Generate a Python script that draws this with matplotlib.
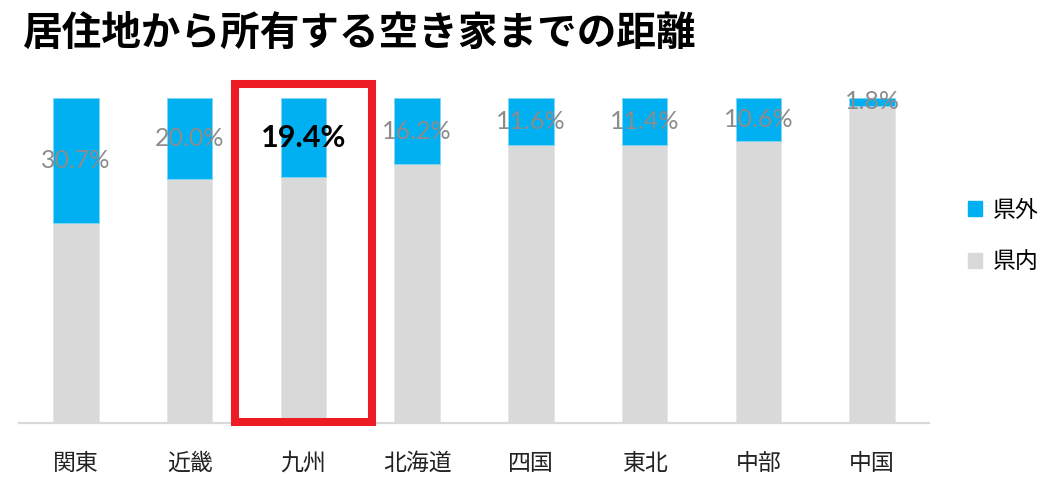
import matplotlib
matplotlib.use('Agg')
import matplotlib.pyplot as plt
from matplotlib.patches import Rectangle, Patch
import numpy as np

plt.rcParams['font.family'] = ['Noto Sans CJK JP', 'DejaVu Sans']

# data (percent)
regions = ['関東', '近畿', '九州', '北海道', '四国', '東北', '中部', '中国']
outside = [30.7, 20.0, 19.4, 16.2, 11.6, 11.4, 10.6, 1.8]   # 県外
inside = [100 - v for v in outside]                           # 県内
highlight = '九州'

blue = '#00B0F0'
gray = '#D9D9D9'

fig = plt.figure(figsize=(10.58, 5.0), dpi=100)
ax = fig.add_axes([19/1058, 1 - 422.7/500, 910/1058, (422.7 - 98.3)/500])

x = np.arange(len(regions))
w = 0.40
ax.bar(x, inside, width=w, color=gray, edgecolor='#E6E6E6', linewidth=0.6, label='県内')
ax.bar(x, outside, width=w, bottom=inside, color=blue, edgecolor='#7FD6F6', linewidth=0.6, label='県外')

ax.set_xlim(-0.5, len(regions) - 0.5)
ax.set_ylim(20, 100)

# data labels at the middle of the blue segment
for i, (lo, v) in enumerate(zip(inside, outside)):
    ymid = lo + v / 2
    if regions[i] == highlight:
        ax.text(i, ymid, f'{v:.1f}%', ha='center', va='center', fontsize=22,
                fontweight='bold', color='black', family=['Lato', 'DejaVu Sans'])
    else:
        ax.text(i, ymid, f'{v:.1f}%', ha='center', va='center', fontsize=18,
                color='#8C8C8C', family=['Lato', 'DejaVu Sans'])

# red box round the highlighted region
hi = regions.index(highlight)
ax.add_patch(Rectangle((hi - 0.605, 20.1), 1.21, 83.4, fill=False,
                       edgecolor='#ED1C24', linewidth=5.8, clip_on=False, zorder=5))

for s in ['top', 'right', 'left']:
    ax.spines[s].set_visible(False)
ax.spines['bottom'].set_color(gray)
ax.spines['bottom'].set_linewidth(1.6)
ax.set_yticks([])
ax.set_xticks(x)
ax.set_xticklabels(regions, fontsize=16.5, color='#222222')
ax.tick_params(axis='x', length=0, pad=21)

fig.text(22/1058, 1 - 34/500, '居住地から所有する空き家までの距離', fontsize=28.5,
         fontweight='bold', va='center', ha='left', color='black')

handles = [Patch(facecolor=blue, edgecolor=blue, label='県外'),
           Patch(facecolor=gray, edgecolor=gray, label='県内')]
fig.legend(handles=handles, loc='center left', bbox_to_anchor=(957/1058, 1 - 236/500),
           frameon=False, fontsize=16.5, handlelength=0.6, handleheight=0.6,
           handletextpad=0.45, labelspacing=1.25, borderpad=0)

fig.savefig('out.png', dpi=100)
